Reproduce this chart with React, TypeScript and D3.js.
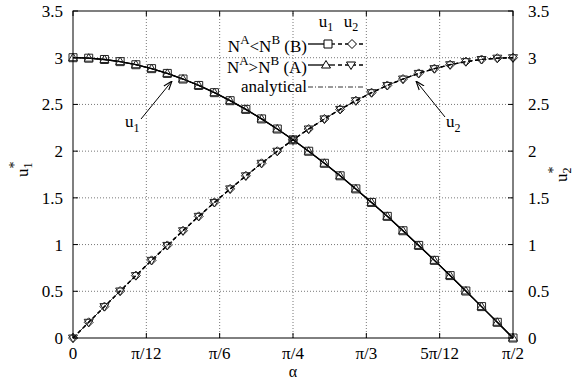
import * as d3 from 'd3'

// alpha in degrees (0 .. pi/2)
const alphaDeg = [0, 3.21, 6.43, 9.64, 12.86, 16.07, 19.29, 22.5, 25.71, 28.93, 32.14, 35.36, 38.57, 41.79, 45,
  48.21, 51.43, 54.64, 57.86, 61.07, 64.29, 67.5, 70.71, 73.93, 77.14, 80.36, 83.57, 86.79, 90]

// N^A < N^B (B)
const u1B = [3.0, 2.995, 2.981, 2.958, 2.925, 2.883, 2.832, 2.772, 2.703, 2.626, 2.54, 2.447, 2.345, 2.237, 2.121,
  1.999, 1.87, 1.736, 1.596, 1.451, 1.302, 1.148, 0.991, 0.831, 0.668, 0.503, 0.336, 0.168, 0]
const u2B = [0, 0.168, 0.336, 0.503, 0.668, 0.831, 0.991, 1.148, 1.302, 1.451, 1.596, 1.736, 1.87, 1.999, 2.121,
  2.237, 2.345, 2.447, 2.54, 2.626, 2.703, 2.772, 2.832, 2.883, 2.925, 2.958, 2.981, 2.995, 3.0]

// N^A > N^B (A)
const u1A = [3.0, 2.995, 2.981, 2.958, 2.925, 2.883, 2.832, 2.772, 2.703, 2.626, 2.54, 2.447, 2.345, 2.237, 2.121,
  1.999, 1.87, 1.736, 1.596, 1.451, 1.302, 1.148, 0.991, 0.831, 0.668, 0.503, 0.336, 0.168, 0]
const u2A = [0, 0.168, 0.336, 0.503, 0.668, 0.831, 0.991, 1.148, 1.302, 1.451, 1.596, 1.736, 1.87, 1.999, 2.121,
  2.237, 2.345, 2.447, 2.54, 2.626, 2.703, 2.772, 2.832, 2.883, 2.925, 2.958, 2.981, 2.995, 3.0]

// analytical
const u1Ana = [3.0, 2.995, 2.981, 2.958, 2.925, 2.883, 2.832, 2.772, 2.703, 2.626, 2.54, 2.447, 2.345, 2.237, 2.121,
  1.999, 1.87, 1.736, 1.596, 1.451, 1.302, 1.148, 0.991, 0.831, 0.668, 0.503, 0.336, 0.168, 0]
const u2Ana = [0, 0.168, 0.336, 0.503, 0.668, 0.831, 0.991, 1.148, 1.302, 1.451, 1.596, 1.736, 1.87, 1.999, 2.121,
  2.237, 2.345, 2.447, 2.54, 2.626, 2.703, 2.772, 2.832, 2.883, 2.925, 2.958, 2.981, 2.995, 3.0]

const xTicks = [0, 15, 30, 45, 60, 75, 90]
const xTickLabels = ['0', 'π/12', 'π/6', 'π/4', 'π/3', '5π/12', 'π/2']
const yTicks = [0, 0.5, 1, 1.5, 2, 2.5, 3, 3.5]

const W = 581, H = 381
const L = 73, R = 513, T = 11, B = 338
const FONT = "'Liberation Serif', 'DejaVu Serif', serif"

type Shape = 'square' | 'tri' | 'diamond' | 'itri'

const markerPath = (shape: Shape, x: number, y: number) => {
  const s = 4
  if (shape === 'square') return `M${x - s},${y - s}h${2 * s}v${2 * s}h${-2 * s}Z`
  if (shape === 'diamond') return `M${x},${y - s - 0.5}L${x + s + 0.5},${y}L${x},${y + s + 0.5}L${x - s - 0.5},${y}Z`
  if (shape === 'tri') return `M${x},${y - s - 0.5}L${x + s + 0.5},${y + s - 1}L${x - s - 0.5},${y + s - 1}Z`
  return `M${x},${y + s + 0.5}L${x + s + 0.5},${y - s + 1}L${x - s - 0.5},${y - s + 1}Z`
}

export default function App() {
  const x = d3.scaleLinear().domain([0, 90]).range([L, R])
  const y = d3.scaleLinear().domain([0, 3.5]).range([B, T])

  const mkLine = (vals: number[]) =>
    d3.line<number>().x((d, i) => x(alphaDeg[i])).y(d => y(d))(vals) || ''

  const series: { vals: number[]; shape: Shape; dash?: string }[] = [
    { vals: u1B, shape: 'square' },
    { vals: u2B, shape: 'diamond', dash: '4,3' },
    { vals: u1A, shape: 'tri' },
    { vals: u2A, shape: 'itri', dash: '4,3' },
  ]

  const legX0 = 308, legX1 = 335, legX2 = 338, legX3 = 363
  const rows = [44, 65, 87]

  return (
    <svg width={W} height={H} style={{ position: 'absolute', left: 0, top: 0, background: '#fff', fontFamily: FONT }}
      fontSize={17}>
      <defs>
        <marker id="arr" viewBox="0 0 10 10" refX="10" refY="5" markerWidth="9" markerHeight="9"
          orient="auto" markerUnits="userSpaceOnUse">
          <path d="M0,1.5L10,5L0,8.5" fill="none" stroke="#000" strokeWidth={1.2} />
        </marker>
      </defs>

      {/* grid */}
      <g stroke="#777" strokeWidth={1} strokeDasharray="1,2">
        {yTicks.slice(1, -1).map(t => (
          <line key={'gy' + t} x1={L} x2={R} y1={y(t)} y2={y(t)} />
        ))}
        {xTicks.slice(1, -1).map(t => (
          <line key={'gx' + t} x1={x(t)} x2={x(t)} y1={B} y2={T} />
        ))}
      </g>

      {/* ticks */}
      <g stroke="#000" strokeWidth={1}>
        {yTicks.map(t => (
          <g key={'ty' + t}>
            <line x1={L} x2={L + 5} y1={y(t)} y2={y(t)} />
            <line x1={R} x2={R - 5} y1={y(t)} y2={y(t)} />
          </g>
        ))}
        {xTicks.map(t => (
          <g key={'tx' + t}>
            <line x1={x(t)} x2={x(t)} y1={B} y2={B - 5} />
            <line x1={x(t)} x2={x(t)} y1={T} y2={T + 5} />
          </g>
        ))}
      </g>

      {/* tick labels */}
      {yTicks.map(t => (
        <text key={'ly' + t} x={L - 10} y={y(t)} dy="0.35em" textAnchor="end">{t}</text>
      ))}
      {yTicks.map(t => (
        <text key={'ry' + t} x={R + 15} y={y(t)} dy="0.35em" textAnchor="start">{t}</text>
      ))}
      {xTicks.map((t, i) => (
        <text key={'lx' + t} x={x(t)} y={B + 21} textAnchor="middle">{xTickLabels[i]}</text>
      ))}

      {/* axis titles */}
      <text x={x(45)} y={377} textAnchor="middle" fontSize={16}>α</text>
      <text transform="translate(28,177) rotate(-90)">
        u<tspan fontSize={12} dy={4}>1</tspan><tspan fontSize={14} dx={-6} dy={-13}>*</tspan>
      </text>
      <text transform="translate(567,182) rotate(-90)">
        u<tspan fontSize={12} dy={4}>2</tspan><tspan fontSize={14} dx={-6} dy={-13}>*</tspan>
      </text>

      {/* analytical */}
      <path d={mkLine(u1Ana)} fill="none" stroke="#000" strokeWidth={0.8} strokeDasharray="5,2,1,2" />
      <path d={mkLine(u2Ana)} fill="none" stroke="#000" strokeWidth={0.8} strokeDasharray="5,2,1,2" />

      {/* series */}
      {series.map((s, k) => (
        <g key={'s' + k}>
          <path d={mkLine(s.vals)} fill="none" stroke="#000" strokeWidth={1.3} strokeDasharray={s.dash} />
          {s.vals.map((v, i) => (
            <path key={i} d={markerPath(s.shape, x(alphaDeg[i]), y(v))} fill="none" stroke="#222" strokeWidth={1} />
          ))}
        </g>
      ))}

      {/* frame */}
      <rect x={L} y={T} width={R - L} height={B - T} fill="none" stroke="#000" strokeWidth={1} />

      {/* legend */}
      <text x={326} y={27} textAnchor="middle">u<tspan fontSize={12} dy={4}>1</tspan></text>
      <text x={351} y={27} textAnchor="middle">u<tspan fontSize={12} dy={4}>2</tspan></text>

      <text x={307} y={rows[0] + 8} textAnchor="end">
        N<tspan fontSize={13} dy={-8}>A</tspan><tspan dy={8}>&lt;N</tspan><tspan fontSize={13} dy={-8}>B</tspan><tspan dy={8}> (B)</tspan>
      </text>
      <text x={307} y={rows[1] + 8} textAnchor="end">
        N<tspan fontSize={13} dy={-8}>A</tspan><tspan dy={8}>&gt;N</tspan><tspan fontSize={13} dy={-8}>B</tspan><tspan dy={8}> (A)</tspan>
      </text>
      <text x={307} y={rows[2] + 5} textAnchor="end">analytical</text>

      <line x1={legX0} x2={legX1} y1={rows[0]} y2={rows[0]} stroke="#000" strokeWidth={1.3} />
      <path d={markerPath('square', 328, rows[0])} fill="#fff" stroke="#000" />
      <line x1={legX2} x2={legX3} y1={rows[0]} y2={rows[0]} stroke="#000" strokeWidth={1.3} strokeDasharray="4,3" />
      <path d={markerPath('diamond', 352, rows[0])} fill="#fff" stroke="#000" />

      <line x1={legX0} x2={legX1} y1={rows[1]} y2={rows[1]} stroke="#000" strokeWidth={1.3} />
      <path d={markerPath('tri', 326, rows[1])} fill="#fff" stroke="#000" />
      <line x1={legX2} x2={legX3} y1={rows[1]} y2={rows[1]} stroke="#000" strokeWidth={1.3} strokeDasharray="4,3" />
      <path d={markerPath('itri', 351, rows[1])} fill="#fff" stroke="#000" />

      <line x1={legX0} x2={legX3} y1={rows[2]} y2={rows[2]} stroke="#000" strokeWidth={0.8} strokeDasharray="5,2,1,2" />

      {/* annotations */}
      <line x1={141} y1={119} x2={172} y2={81} stroke="#000" strokeWidth={1} markerEnd="url(#arr)" />
      <text x={125} y={127}>u<tspan fontSize={12} dy={5}>1</tspan></text>
      <line x1={445} y1={117} x2={416} y2={81} stroke="#000" strokeWidth={1} markerEnd="url(#arr)" />
      <text x={446} y={127}>u<tspan fontSize={12} dy={5}>2</tspan></text>
    </svg>
  )
}
